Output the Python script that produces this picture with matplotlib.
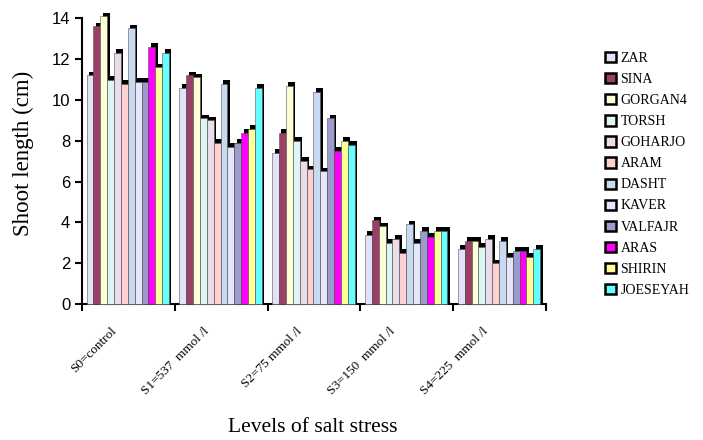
import matplotlib
matplotlib.use('Agg')
import matplotlib.pyplot as plt
import matplotlib.transforms as mtransforms
from matplotlib.patches import Patch
import numpy as np

## data
levels = ['S0=control', 'S1=537  mmol /l', 'S2=75 mmol /l', 'S3=150  mmol /l', 'S4=225  mmol /l']
cultivars = ['ZAR', 'SINA', 'GORGAN4', 'TORSH', 'GOHARJO', 'ARAM', 'DASHT', 'KAVER',
	'VALFAJR', 'ARAS', 'SHIRIN', 'JOESEYAH']

ZAR = [11.2, 10.6, 7.4, 3.4, 2.7]
SINA = [13.6, 11.2, 8.4, 4.1, 3.1]
GORGAN4 = [14.1, 11.1, 10.7, 3.8, 3.1]
TORSH = [11.0, 9.1, 8.0, 3.0, 2.8]
GOHARJO = [12.3, 9.0, 7.0, 3.2, 3.2]
ARAM = [10.8, 7.9, 6.6, 2.5, 2.0]
DASHT = [13.5, 10.8, 10.4, 3.9, 3.1]
KAVER = [10.9, 7.7, 6.5, 3.0, 2.3]
VALFAJR = [10.9, 7.9, 9.1, 3.6, 2.6]
ARAS = [12.6, 8.4, 7.5, 3.3, 2.6]
SHIRIN = [11.6, 8.6, 8.0, 3.6, 2.3]
JOESEYAH = [12.3, 10.6, 7.8, 3.6, 2.7]
values = [ZAR, SINA, GORGAN4, TORSH, GOHARJO, ARAM, DASHT, KAVER, VALFAJR, ARAS, SHIRIN, JOESEYAH]

colors = ['#E2E2F6', '#9B3F68', '#FFFFD6', '#DCF6F6', '#EADCEA', '#FFD0D0',
	'#C8DAF0', '#E6E6FA', '#9C9CCC', '#FF00FF', '#FFFF99', '#66FFFF']

## plot
serif = ['Liberation Serif', 'DejaVu Serif']
fig = plt.figure(figsize=(7.03, 4.40), dpi=100)
ax = fig.add_axes([0.1166, 0.309, 0.66, 0.668])

x = np.arange(len(levels))
w = 0.074
dx = 0.026
dy = 0.18
for i, (name, vals) in enumerate(zip(cultivars, values)):
	pos = x - 0.45 + w/2 + i*w
	# 3D depth as a black shadow behind the front face
	ax.bar(pos + dx, np.array(vals) + dy, width=w, color='black', zorder=2+2*i, clip_on=False)
	ax.bar(pos, vals, width=w, color=colors[i], edgecolor='#555555', lw=0.4, zorder=3+2*i, clip_on=False)

ax.set_xlim(-0.5, 4.5)
ax.set_ylim(0, 14.4)
ax.set_yticks(np.arange(0, 15, 2))
ax.set_xticks(np.arange(-0.5, 5.0, 1.0))
ax.set_xticklabels([])
ax.set_xticks(x, minor=True)
ax.set_xticklabels(levels, minor=True, rotation=45, ha='right', rotation_mode='anchor',
	family=serif, fontsize=9.5)
ax.tick_params(axis='x', which='minor', length=0, pad=15)
offset = mtransforms.ScaledTranslation(-0.18, 0, fig.dpi_scale_trans)
for lab in ax.get_xticklabels(minor=True):
	lab.set_transform(lab.get_transform() + offset)
ax.tick_params(axis='x', which='major', length=5, width=1.5, direction='out')
ax.tick_params(axis='y', length=5, width=1.5, direction='out', labelsize=12)
for lab in ax.get_yticklabels():
	lab.set_family(['Liberation Sans', 'DejaVu Sans'])

ax.spines['top'].set_visible(False)
ax.spines['right'].set_visible(False)
ax.spines['left'].set_linewidth(1.5)
ax.spines['bottom'].set_linewidth(1.5)
ax.spines['left'].set_bounds(0, 14)

fig.text(0.033, 0.652, 'Shoot length (cm)', family=serif, fontsize=16.5, rotation=90,
	ha='center', va='center')
fig.text(0.445, 0.018, 'Levels of salt stress', family=serif, fontsize=15.5, ha='center')

handles = [Patch(facecolor=c, edgecolor='black', lw=1.8) for c in colors]
fig.legend(handles, cultivars, loc='upper left', bbox_to_anchor=(0.843, 0.91), frameon=False,
	prop={'family': serif, 'size': 10}, handlelength=0.75, handleheight=0.75,
	handletextpad=0.35, labelspacing=0.58)

fig.savefig('out.png', dpi=100)
